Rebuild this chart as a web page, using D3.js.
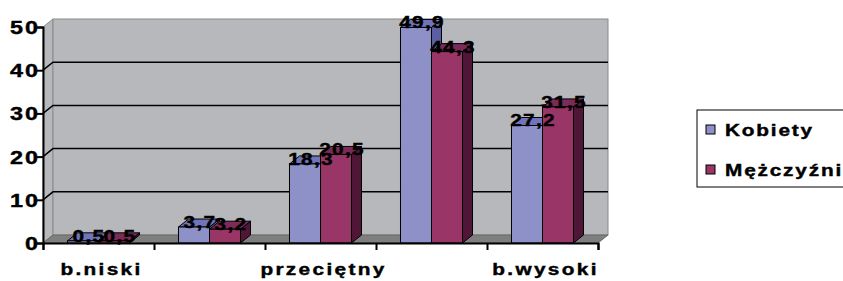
<!DOCTYPE html>
<html>
<head>
<meta charset="utf-8">
<script src="https://cdn.jsdelivr.net/npm/d3@7"></script>
<style>
  body { margin: 0; background: #fff; }
  text { font-family: "Liberation Sans", Arial, sans-serif; font-weight: bold; fill: #000; stroke: #000; stroke-width: 0.4px; }
</style>
</head>
<body>
<div id="chart"></div>
<script>
// data
const categories = ["b.niski", "niski", "przeciętny", "wysoki", "b.wysoki"];
const series = ["Kobiety", "Mężczyźni"];
const kobiety = [0.5, 3.7, 18.3, 49.9, 27.2];
const mezczyzni = [0.5, 3.2, 20.5, 44.3, 31.5];
const yTicks = [0, 10, 20, 30, 40, 50];

const width = 843, height = 281;
const dx = 10, dy = -8; // depth of the 3d box
const sx = 1.3;         // old excel fonts look stretched

const colors = {
  Kobiety:   { front: "#8e90c8", top: "#7074b8", side: "#5b5e9f" },
  "Mężczyźni": { front: "#9a3567", top: "#7c2a57", side: "#4f1637" }
};

const svg = d3.select("#chart").append("svg")
    .attr("width", width)
    .attr("height", height);

const x = d3.scaleBand().domain(categories).range([43, 598]);
const xs = d3.scaleBand().domain(series).range([0, x.bandwidth()]).paddingOuter(0.79);
const y = d3.scaleLinear().domain([0, 50]).range([243, 27]);

const x0 = x.range()[0], x1 = x.range()[1];
const yTop = y(50), yBot = y(0);

// side wall
svg.append("polygon")
    .attr("points", [[x0, yBot], [x0 + dx, yBot + dy], [x0 + dx, yTop + dy], [x0, yTop]].join(" "))
    .attr("fill", "#b7b8bc")
    .attr("stroke", "#8a8a8a");

// back wall
svg.append("rect")
    .attr("x", x0 + dx).attr("y", yTop + dy)
    .attr("width", x1 - x0).attr("height", yBot - yTop)
    .attr("fill", "#b7b8bc")
    .attr("stroke", "#8a8a8a");

// floor
svg.append("polygon")
    .attr("points", [[x0, yBot], [x1, yBot], [x1 + dx, yBot + dy], [x0 + dx, yBot + dy]].join(" "))
    .attr("fill", "#7f7f7f")
    .attr("stroke", "#6a6a6a");

// gridlines on back and side wall
const grid = svg.append("g");
yTicks.filter(t => t > 0 && t < 50).forEach(t => {
  grid.append("path")
      .attr("d", `M${x0},${y(t)}L${x0 + dx},${y(t) + dy}L${x1 + dx},${y(t) + dy}`)
      .attr("fill", "none")
      .attr("stroke", "#000")
      .attr("stroke-width", 1.5);
});

// bars
const rows = categories.map((c, i) => ({ cat: c, values: [kobiety[i], mezczyzni[i]] }));
const bars = [];
rows.forEach(r => r.values.forEach((v, j) => bars.push({ cat: r.cat, s: series[j], v: v })));

const bw = xs.bandwidth();
const barG = svg.append("g").selectAll("g")
    .data(bars)
    .join("g");

barG.append("polygon") // side
    .attr("points", d => {
      const bx = x(d.cat) + xs(d.s) + bw;
      return [[bx, y(d.v)], [bx + dx, y(d.v) + dy], [bx + dx, yBot + dy], [bx, yBot]].join(" ");
    })
    .attr("fill", d => colors[d.s].side)
    .attr("stroke", "#000").attr("stroke-width", 1);

barG.append("polygon") // top
    .attr("points", d => {
      const bx = x(d.cat) + xs(d.s);
      return [[bx, y(d.v)], [bx + bw, y(d.v)], [bx + bw + dx, y(d.v) + dy], [bx + dx, y(d.v) + dy]].join(" ");
    })
    .attr("fill", d => colors[d.s].top)
    .attr("stroke", "#000").attr("stroke-width", 1);

barG.append("rect") // front
    .attr("x", d => x(d.cat) + xs(d.s))
    .attr("y", d => y(d.v))
    .attr("width", bw)
    .attr("height", d => yBot - y(d.v))
    .attr("fill", d => colors[d.s].front)
    .attr("stroke", "#000").attr("stroke-width", 1);

// value labels
svg.append("g").selectAll("text")
    .data(bars)
    .join("text")
    .attr("transform", d => `translate(${x(d.cat) + xs(d.s) + bw / 2 + dx / 2 + 1},${y(d.v) + 1}) scale(${sx},1)`)
    .attr("text-anchor", "middle")
    .style("font-size", "16px")
    .style("letter-spacing", "1px")
    .text(d => String(d.v).replace(".", ","));

// y axis
const yAxis = svg.append("g")
    .attr("transform", `translate(${x0},0)`)
    .call(d3.axisLeft(y).tickValues(yTicks).tickSize(6).tickFormat(""));
yAxis.select(".domain").attr("stroke", "#000").attr("stroke-width", 2);
yAxis.selectAll(".tick line").attr("stroke", "#000").attr("stroke-width", 2);
yAxis.selectAll(".tick").append("text")
    .attr("transform", `translate(-3,6.5) scale(${sx},1)`)
    .attr("text-anchor", "end")
    .style("font-size", "18px")
    .style("letter-spacing", "1.5px")
    .text(d => d);

// x axis: ticks at category boundaries
const xb = d3.scaleLinear().domain([0, categories.length]).range([x0, x1]);
const xAxis = svg.append("g")
    .attr("transform", `translate(0,${yBot})`)
    .call(d3.axisBottom(xb).ticks(categories.length).tickSize(7).tickFormat(""));
xAxis.select(".domain").attr("stroke", "#000").attr("stroke-width", 2);
xAxis.selectAll(".tick line").attr("stroke", "#000").attr("stroke-width", 2);

svg.append("g").selectAll("text")
    .data(categories.filter((c, i) => i % 2 === 0))
    .join("text")
    .attr("transform", d => `translate(${x(d) + x.bandwidth() / 2 + 3},275) scale(${sx},1)`)
    .attr("text-anchor", "middle")
    .style("font-size", "16px")
    .style("letter-spacing", "1.8px")
    .text(d => d);

// legend
const legend = svg.append("g");
legend.append("rect")
    .attr("x", 697).attr("y", 110)
    .attr("width", 170).attr("height", 77)
    .attr("fill", "#fff").attr("stroke", "#000");
series.forEach((s, i) => {
  legend.append("rect")
      .attr("x", 706).attr("y", 125 + i * 40)
      .attr("width", 9).attr("height", 9)
      .attr("fill", colors[s].front).attr("stroke", "#000");
  legend.append("text")
      .attr("transform", `translate(725,${136 + i * 40}) scale(${sx},1)`)
      .style("font-size", "16px")
      .style("letter-spacing", "1.4px")
      .text(s);
});
</script>
</body>
</html>
